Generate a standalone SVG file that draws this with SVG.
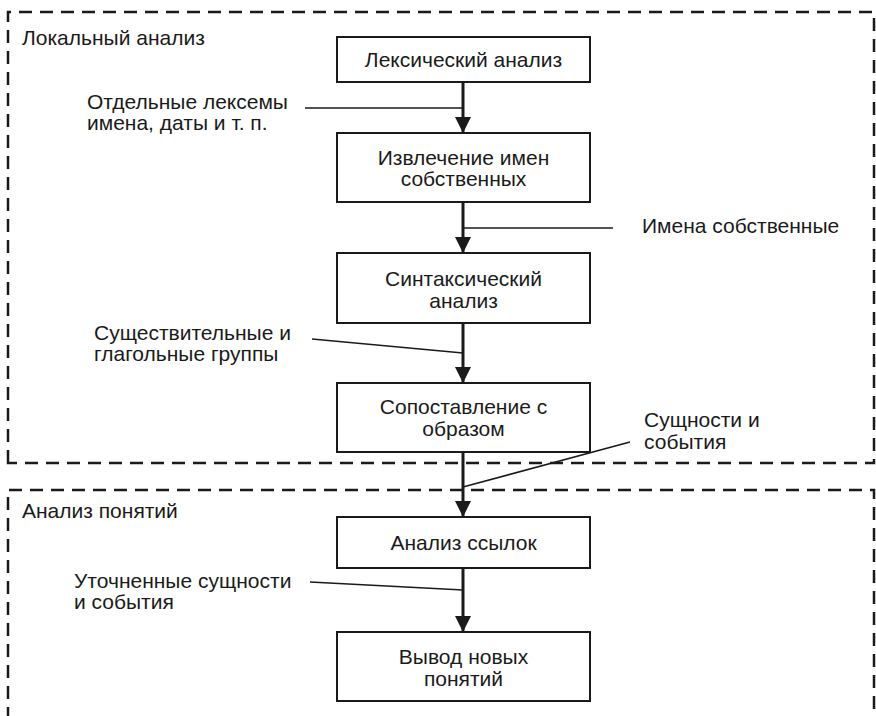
<svg xmlns="http://www.w3.org/2000/svg" width="876" height="716" viewBox="0 0 876 716">
  <style>
    text { font-family: "Liberation Sans", Arial, sans-serif; font-size: 21px; fill: #1a1a1a; }
    .mid { text-anchor: middle; }
    .stage { fill: none; stroke: #1a1a1a; stroke-width: 2.5; stroke-dasharray: 13 8; }
    .box { fill: #ffffff; stroke: #1a1a1a; stroke-width: 2; }
    .flow { stroke: #1a1a1a; stroke-width: 3; fill: none; }
    .lead { stroke: #1a1a1a; stroke-width: 1.6; fill: none; }
  </style>
  <defs>
    <marker id="arrow" markerUnits="userSpaceOnUse" markerWidth="16" markerHeight="17" refX="16" refY="8" orient="auto">
      <path d="M0,0 L16,8 L0,16 Z" fill="#1a1a1a"/>
    </marker>
  </defs>
  <rect width="876" height="716" fill="#ffffff"/>

  <!-- stage frames -->
  <g id="stage-local">
    <path class="stage" d="M8,463 L8,12 L874,12 L874,463 Z"/>
    <text x="22" y="45">Локальный анализ</text>
  </g>
  <g id="stage-concepts">
    <path class="stage" d="M8,720 L8,490 L874,490 L874,720"/>
    <text x="22" y="518">Анализ понятий</text>
  </g>

  <!-- connectors -->
  <g id="connectors">
    <line class="flow" x1="463" y1="82" x2="463" y2="133" marker-end="url(#arrow)"/>
    <line class="flow" x1="463" y1="202" x2="463" y2="253" marker-end="url(#arrow)"/>
    <line class="flow" x1="463" y1="323" x2="463" y2="383" marker-end="url(#arrow)"/>
    <line class="flow" x1="463" y1="452" x2="463" y2="517" marker-end="url(#arrow)"/>
    <line class="flow" x1="463" y1="568" x2="463" y2="632" marker-end="url(#arrow)"/>

    <line class="lead" x1="305" y1="108" x2="463" y2="108"/>
    <line class="lead" x1="463" y1="228" x2="613" y2="228"/>
    <line class="lead" x1="312" y1="339" x2="463" y2="353"/>
    <line class="lead" x1="630" y1="442" x2="463" y2="487"/>
    <line class="lead" x1="310" y1="582" x2="463" y2="590"/>
  </g>

  <!-- connector labels -->
  <g id="label-lexemes">
    <text x="87" y="109">Отдельные лексемы</text>
    <text x="87" y="130">имена, даты и т. п.</text>
  </g>
  <g id="label-proper-names">
    <text x="642" y="233">Имена собственные</text>
  </g>
  <g id="label-groups">
    <text x="94" y="340">Существительные и</text>
    <text x="94" y="361">глагольные группы</text>
  </g>
  <g id="label-entities">
    <text x="644" y="427">Сущности и</text>
    <text x="644" y="449">события</text>
  </g>
  <g id="label-refined">
    <text x="74" y="588">Уточненные сущности</text>
    <text x="74" y="609">и события</text>
  </g>

  <!-- process nodes -->
  <g id="node-lexical">
    <rect class="box" x="337" y="37" width="253" height="45"/>
    <text class="mid" x="463.5" y="67">Лексический анализ</text>
  </g>
  <g id="node-names">
    <rect class="box" x="337" y="133" width="253" height="69"/>
    <text class="mid" x="463.5" y="165">Извлечение имен</text>
    <text class="mid" x="463.5" y="186">собственных</text>
  </g>
  <g id="node-syntax">
    <rect class="box" x="337" y="253" width="253" height="70"/>
    <text class="mid" x="463.5" y="286">Синтаксический</text>
    <text class="mid" x="463.5" y="308">анализ</text>
  </g>
  <g id="node-matching">
    <rect class="box" x="337" y="383" width="253" height="69"/>
    <text class="mid" x="463.5" y="414">Сопоставление с</text>
    <text class="mid" x="463.5" y="436">образом</text>
  </g>
  <g id="node-references">
    <rect class="box" x="337" y="517" width="253" height="51"/>
    <text class="mid" x="463.5" y="550">Анализ ссылок</text>
  </g>
  <g id="node-inference">
    <rect class="box" x="337" y="632" width="253" height="69"/>
    <text class="mid" x="463.5" y="664">Вывод новых</text>
    <text class="mid" x="463.5" y="686">понятий</text>
  </g>
</svg>
